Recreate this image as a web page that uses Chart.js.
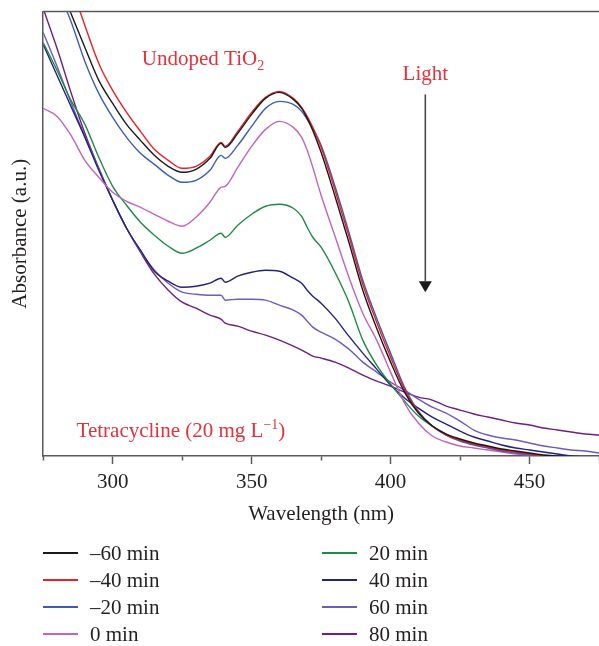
<!DOCTYPE html>
<html>
<head>
<meta charset="utf-8">
<script src="https://cdn.jsdelivr.net/npm/chart.js@4.4.0/dist/chart.umd.min.js"></script>
<style>
  body { margin: 0; background: #fff; overflow: hidden; }
  #wrap { position: relative; width: 599px; height: 646px; overflow: hidden; }
  #chartBox { position: absolute; left: 0; top: 0; width: 605px; height: 535px; }
  #legend { position: absolute; left: 0; top: 0; width: 599px; height: 646px; pointer-events: none;
            font-family: "Liberation Serif", serif; font-size: 21px; color: #231f20; }
  .item { position: absolute; height: 28px; line-height: 28px; white-space: nowrap; }
  .swatch { position: absolute; left: 0; top: 13px; width: 35px; height: 0; border-top: 2px solid; }
  .lbl { position: absolute; left: 47px; top: 0; }
</style>
</head>
<body>
<div id="wrap">
  <div id="chartBox"><canvas id="uv-chart"></canvas></div>
  <div id="legend"></div>
</div>
<script>
(function() {
  // wavelengths (nm) shared by every spectrum
  const wavelengths = [275, 280, 285, 290, 295, 300, 305, 310, 315, 320, 325, 330, 335, 339, 340.5, 345, 350, 355, 360, 365, 368, 370, 372, 375, 380, 385, 390, 395, 400, 405, 410, 415, 420, 425, 430, 435, 440, 445, 450, 455, 460, 465, 470, 475];

  const seriesLabels = ['–60 min', '–40 min', '–20 min', '0 min', '20 min', '40 min', '60 min', '80 min'];

  // absorbance (a.u.)
  const absMinus60 = [5.11, 4.78, 4.43, 4.09, 3.76, 3.53, 3.32, 3.16, 3.01, 2.90, 2.84, 2.87, 2.98, 3.13, 3.09, 3.23, 3.42, 3.58, 3.64, 3.57, 3.48, 3.38, 3.26, 3.04, 2.60, 2.14, 1.66, 1.28, 0.94, 0.64, 0.43, 0.30, 0.22, 0.17, 0.13, 0.10, 0.07, 0.05, 0.03, 0.01, 0.00, -0.01, -0.02, -0.02];
  const absMinus40 = [5.46, 5.11, 4.71, 4.31, 3.93, 3.66, 3.44, 3.25, 3.07, 2.96, 2.88, 2.90, 3.00, 3.14, 3.10, 3.25, 3.44, 3.59, 3.65, 3.58, 3.49, 3.40, 3.29, 3.09, 2.66, 2.20, 1.72, 1.34, 0.99, 0.67, 0.44, 0.30, 0.21, 0.16, 0.12, 0.09, 0.06, 0.04, 0.02, 0.00, -0.01, -0.02, -0.02, -0.03];
  const absMinus20 = [4.96, 4.68, 4.35, 3.95, 3.63, 3.39, 3.19, 3.03, 2.92, 2.81, 2.74, 2.76, 2.86, 3.01, 2.98, 3.11, 3.30, 3.48, 3.55, 3.52, 3.45, 3.37, 3.28, 3.11, 2.70, 2.24, 1.76, 1.38, 1.03, 0.69, 0.45, 0.30, 0.21, 0.15, 0.11, 0.08, 0.05, 0.03, 0.01, 0.00, -0.01, -0.02, -0.02, -0.03];
  const abs0 = [3.48, 3.40, 3.21, 2.96, 2.79, 2.64, 2.55, 2.49, 2.42, 2.35, 2.30, 2.39, 2.54, 2.69, 2.70, 2.89, 3.10, 3.27, 3.35, 3.29, 3.19, 3.06, 2.89, 2.61, 2.20, 1.79, 1.43, 1.16, 0.84, 0.53, 0.33, 0.20, 0.14, 0.10, 0.08, 0.06, 0.04, 0.02, 0.01, 0.00, -0.01, -0.02, -0.02, -0.03];
  const abs20 = [4.14, 3.86, 3.56, 3.32, 2.99, 2.70, 2.51, 2.34, 2.21, 2.10, 2.03, 2.08, 2.16, 2.23, 2.19, 2.31, 2.42, 2.50, 2.52, 2.48, 2.40, 2.29, 2.19, 2.09, 1.84, 1.54, 1.16, 0.91, 0.72, 0.55, 0.40, 0.30, 0.22, 0.16, 0.12, 0.09, 0.06, 0.04, 0.02, 0.00, -0.01, -0.02, -0.02, -0.03];
  const abs40 = [4.12, 3.81, 3.50, 3.19, 2.86, 2.56, 2.28, 2.06, 1.85, 1.75, 1.69, 1.70, 1.73, 1.78, 1.74, 1.80, 1.84, 1.86, 1.85, 1.78, 1.73, 1.66, 1.60, 1.53, 1.38, 1.20, 1.03, 0.87, 0.71, 0.58, 0.48, 0.39, 0.32, 0.25, 0.19, 0.15, 0.11, 0.08, 0.06, 0.04, 0.02, 0.00, -0.01, -0.02];
  const abs60 = [4.24, 3.90, 3.54, 3.20, 2.88, 2.56, 2.28, 2.05, 1.86, 1.73, 1.64, 1.62, 1.61, 1.61, 1.56, 1.57, 1.57, 1.56, 1.51, 1.46, 1.41, 1.35, 1.29, 1.24, 1.17, 1.07, 0.94, 0.84, 0.74, 0.66, 0.57, 0.49, 0.43, 0.35, 0.26, 0.21, 0.18, 0.16, 0.13, 0.10, 0.08, 0.06, 0.05, 0.03];
  const abs80 = [4.48, 4.08, 3.64, 3.23, 2.88, 2.56, 2.28, 2.04, 1.82, 1.66, 1.54, 1.48, 1.41, 1.37, 1.33, 1.30, 1.25, 1.21, 1.16, 1.10, 1.06, 1.03, 1.00, 0.98, 0.94, 0.88, 0.81, 0.75, 0.70, 0.64, 0.59, 0.56, 0.50, 0.46, 0.42, 0.39, 0.36, 0.33, 0.31, 0.28, 0.26, 0.24, 0.22, 0.21];

  const xMajorTicks = [300, 350, 400, 450];
  const xMinorTicks = [275, 325, 375, 425, 475];

  const allSeries = [absMinus60, absMinus40, absMinus20, abs0, abs20, abs40, abs60, abs80];
  const palette = ['#1a1a1a', '#e8202a', '#3b5db5', '#c065bd', '#1f8a44', '#23237d', '#6c5cbf', '#6f1f7e'];
  const textColor = '#231f20';
  const axisColor = '#5a5a5c';
  const noteColor = '#e8303a';
  const serif = '"Liberation Serif", "Times New Roman", serif';

  function drawRuns(ctx, runs, x0, yBase, align) {
    let width = 0;
    runs.forEach((r) => {
      ctx.font = `${r.size}px ${serif}`;
      width += ctx.measureText(r.text).width;
    });
    let cx = align === 'center' ? x0 - width / 2 : x0;
    runs.forEach((r) => {
      ctx.font = `${r.size}px ${serif}`;
      ctx.fillText(r.text, cx, yBase + (r.shift || 0));
      cx += ctx.measureText(r.text).width;
    });
  }

  const notesPlugin = {
    id: 'notes',
    afterDatasetsDraw(chart) {
      const { ctx, chartArea, scales: { x, y } } = chart;
      ctx.save();
      ctx.strokeStyle = axisColor;
      ctx.lineWidth = 1.5;
      ctx.beginPath();
      ctx.moveTo(chartArea.left, chartArea.top);
      ctx.lineTo(chartArea.right, chartArea.top);
      ctx.stroke();

      ctx.fillStyle = noteColor;
      ctx.textBaseline = 'alphabetic';
      ctx.textAlign = 'left';
      drawRuns(ctx, [
        { text: 'Undoped TiO', size: 21 },
        { text: '2', size: 14, shift: 5 }
      ], x.getPixelForValue(310.5), y.getPixelForValue(3.91));
      drawRuns(ctx, [{ text: 'Light', size: 21 }], x.getPixelForValue(412.5), y.getPixelForValue(3.76), 'center');
      drawRuns(ctx, [
        { text: 'Tetracycline (20 mg L', size: 21 },
        { text: '−1', size: 14, shift: -8 },
        { text: ')', size: 21 }
      ], x.getPixelForValue(287), y.getPixelForValue(0.19));

      // arrow
      const ax = x.getPixelForValue(412.5);
      const yTop = y.getPixelForValue(3.62);
      const yHead = y.getPixelForValue(1.75);
      const yTip = y.getPixelForValue(1.64);
      ctx.strokeStyle = '#4a4a4a';
      ctx.lineWidth = 1.6;
      ctx.beginPath();
      ctx.moveTo(ax, yTop);
      ctx.lineTo(ax, yHead);
      ctx.stroke();
      ctx.fillStyle = '#1a1a1a';
      ctx.beginPath();
      ctx.moveTo(ax - 6.5, yHead);
      ctx.lineTo(ax + 6.5, yHead);
      ctx.lineTo(ax, yTip);
      ctx.closePath();
      ctx.fill();
      ctx.restore();
    }
  };

  const datasets = allSeries.map((values, i) => ({
    label: seriesLabels[i],
    data: wavelengths.map((w, j) => ({ x: w, y: values[j] })),
    borderColor: palette[i],
    backgroundColor: palette[i],
    borderWidth: 1.4,
    pointRadius: 0,
    cubicInterpolationMode: 'monotone',
    fill: false
  }));

  new Chart(document.getElementById('uv-chart'), {
    type: 'line',
    data: { datasets },
    plugins: [notesPlugin],
    options: {
      responsive: true,
      maintainAspectRatio: false,
      animation: false,
      layout: { padding: { left: 8, top: 11.5, right: 0, bottom: 5.6 } },
      plugins: { legend: { display: false }, tooltip: { enabled: false } },
      scales: {
        x: {
          type: 'linear',
          min: 275,
          max: 475,
          afterBuildTicks(axis) {
            axis.ticks = xMajorTicks.concat(xMinorTicks).sort((a, b) => a - b).map((v) => ({ value: v }));
          },
          ticks: {
            autoSkip: false,
            maxRotation: 0,
            padding: 6,
            color: textColor,
            font: { family: serif, size: 21 },
            callback(value) {
              return xMajorTicks.includes(value) ? String(value) : '';
            }
          },
          grid: {
            display: true,
            drawOnChartArea: false,
            drawTicks: true,
            tickLength: 8,
            tickColor: axisColor,
            tickWidth: 1.5,
            tickBorderDash(context) {
              return context.tick && xMajorTicks.includes(context.tick.value) ? [] : [4, 30];
            }
          },
          border: { display: true, color: axisColor, width: 1.5 },
          title: {
            display: true,
            text: 'Wavelength (nm)',
            color: textColor,
            font: { family: serif, size: 21 },
            padding: { top: 1, bottom: 2 }
          }
        },
        y: {
          min: 0,
          max: 4.45,
          ticks: { display: false },
          grid: { display: false, drawTicks: false },
          border: { display: true, color: axisColor, width: 1.5 },
          title: {
            display: true,
            text: 'Absorbance (a.u.)',
            color: textColor,
            font: { family: serif, size: 21 },
            padding: { top: 0, bottom: 10 }
          }
        }
      }
    }
  });

  // two-column legend, filled column by column
  const legendBox = document.getElementById('legend');
  const rowTops = [539, 566, 593, 620];
  const colLefts = [43, 322];
  seriesLabels.forEach((label, i) => {
    const item = document.createElement('div');
    item.className = 'item';
    item.style.left = colLefts[Math.floor(i / 4)] + 'px';
    item.style.top = rowTops[i % 4] + 'px';
    item.innerHTML = `<span class="swatch" style="border-color:${palette[i]}"></span><span class="lbl">${label}</span>`;
    legendBox.appendChild(item);
  });
})();
</script>
</body>
</html>
